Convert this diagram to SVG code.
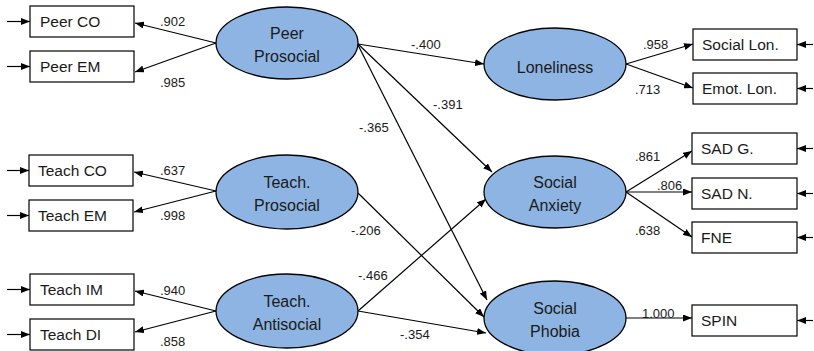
<svg xmlns="http://www.w3.org/2000/svg" width="814" height="351" viewBox="0 0 814 351">
<defs>
<marker id="ah" markerWidth="9" markerHeight="7" refX="9" refY="3.5" orient="auto" markerUnits="userSpaceOnUse">
<path d="M0,0 L9,3.5 L0,7 z" fill="#000"/>
</marker>
<style>
.box{fill:#fff;stroke:#000;stroke-width:1.2}
.lat{fill:#8db4e2;stroke:#000;stroke-width:1.3}
.t{font-family:"Liberation Sans",Arial,sans-serif;font-size:15.5px;fill:#1a1a1a}
.c{text-anchor:middle;font-size:16px}
.l{font-family:"Liberation Sans",Arial,sans-serif;font-size:13px;fill:#1a1a1a}
.e{stroke:#000;stroke-width:1.2;fill:none;marker-end:url(#ah)}
</style>
</defs>
<rect width="814" height="351" fill="#fff"/>
<g id="connectors">
<line class="e" x1="7" y1="21.5" x2="30" y2="21.5"/>
<line class="e" x1="7" y1="66.5" x2="30" y2="66.5"/>
<line class="e" x1="7" y1="170.5" x2="29" y2="170.5"/>
<line class="e" x1="7" y1="215.5" x2="29" y2="215.5"/>
<line class="e" x1="7" y1="289.5" x2="30" y2="289.5"/>
<line class="e" x1="7" y1="334.5" x2="30" y2="334.5"/>
<line class="e" x1="216" y1="43" x2="135" y2="23"/>
<line class="e" x1="216" y1="43" x2="135" y2="72"/>
<line class="e" x1="216" y1="191" x2="134" y2="172"/>
<line class="e" x1="216" y1="191" x2="134" y2="212"/>
<line class="e" x1="216" y1="311" x2="135" y2="291"/>
<line class="e" x1="216" y1="311" x2="135" y2="332"/>
<line class="e" x1="358" y1="44" x2="484" y2="64"/>
<line class="e" x1="358" y1="44" x2="492" y2="172"/>
<line class="e" x1="358" y1="45" x2="487" y2="300"/>
<line class="e" x1="358" y1="193" x2="484" y2="317"/>
<line class="e" x1="358" y1="311" x2="486" y2="199"/>
<line class="e" x1="358" y1="311" x2="486" y2="333"/>
<line class="e" x1="626" y1="64" x2="693" y2="44"/>
<line class="e" x1="626" y1="64" x2="693" y2="88"/>
<line class="e" x1="626" y1="192" x2="692" y2="151"/>
<line class="e" x1="626" y1="192" x2="692" y2="192"/>
<line class="e" x1="626" y1="192" x2="692" y2="237"/>
<line class="e" x1="626" y1="318" x2="692" y2="318"/>
<line class="e" x1="813" y1="44.5" x2="797" y2="44.5"/>
<line class="e" x1="813" y1="88.5" x2="797" y2="88.5"/>
<line class="e" x1="813" y1="148.5" x2="797" y2="148.5"/>
<line class="e" x1="813" y1="193.5" x2="797" y2="193.5"/>
<line class="e" x1="813" y1="237.5" x2="797" y2="237.5"/>
<line class="e" x1="813" y1="320.5" x2="797" y2="320.5"/>
<text class="l" x="160" y="26">.902</text>
<text class="l" x="160" y="87">.985</text>
<text class="l" x="160" y="175">.637</text>
<text class="l" x="160" y="220">.998</text>
<text class="l" x="160" y="295">.940</text>
<text class="l" x="160" y="346">.858</text>
<text class="l" x="411" y="49">-.400</text>
<text class="l" x="433" y="109">-.391</text>
<text class="l" x="359" y="132">-.365</text>
<text class="l" x="351" y="235">-.206</text>
<text class="l" x="358" y="280">-.466</text>
<text class="l" x="400" y="339">-.354</text>
<text class="l" x="643" y="49">.958</text>
<text class="l" x="635" y="94">.713</text>
<text class="l" x="635" y="161">.861</text>
<text class="l" x="657" y="190">.806</text>
<text class="l" x="635" y="235">.638</text>
<text class="l" x="642" y="318">1.000</text>
</g>
<g id="peer_co"><rect class="box" x="30" y="6" width="104" height="31"/><text class="t" x="40" y="27">Peer CO</text></g>
<g id="peer_em"><rect class="box" x="30" y="51" width="104" height="31"/><text class="t" x="40" y="72">Peer EM</text></g>
<g id="teach_co"><rect class="box" x="29" y="155" width="104" height="31"/><text class="t" x="38" y="176">Teach CO</text></g>
<g id="teach_em"><rect class="box" x="29" y="200" width="104" height="31"/><text class="t" x="38" y="221">Teach EM</text></g>
<g id="teach_im"><rect class="box" x="30" y="274" width="104" height="31"/><text class="t" x="40" y="295">Teach IM</text></g>
<g id="teach_di"><rect class="box" x="30" y="319" width="104" height="31"/><text class="t" x="40" y="340">Teach DI</text></g>
<g id="peer_prosocial"><ellipse class="lat" cx="287" cy="43" rx="71" ry="36"/><text class="t c" x="287" y="39">Peer</text><text class="t c" x="287" y="62">Prosocial</text></g>
<g id="teach_prosocial"><ellipse class="lat" cx="287" cy="192" rx="71" ry="37"/><text class="t c" x="287" y="188">Teach.</text><text class="t c" x="287" y="211">Prosocial</text></g>
<g id="teach_antisocial"><ellipse class="lat" cx="287" cy="311" rx="71" ry="37"/><text class="t c" x="287" y="307">Teach.</text><text class="t c" x="287" y="330">Antisocial</text></g>
<g id="loneliness"><ellipse class="lat" cx="555" cy="64" rx="71" ry="36"/><text class="t c" x="555" y="73">Loneliness</text></g>
<g id="social_anxiety"><ellipse class="lat" cx="555" cy="192" rx="71" ry="36"/><text class="t c" x="555" y="188">Social</text><text class="t c" x="555" y="211">Anxiety</text></g>
<g id="social_phobia"><ellipse class="lat" cx="555" cy="318" rx="71" ry="37"/><text class="t c" x="555" y="314">Social</text><text class="t c" x="555" y="337">Phobia</text></g>
<g id="social_lon"><rect class="box" x="693" y="29" width="104" height="31"/><text class="t" x="702" y="50">Social Lon.</text></g>
<g id="emot_lon"><rect class="box" x="693" y="73" width="104" height="31"/><text class="t" x="702" y="94">Emot. Lon.</text></g>
<g id="sad_g"><rect class="box" x="692" y="133" width="105" height="31"/><text class="t" x="701" y="154">SAD G.</text></g>
<g id="sad_n"><rect class="box" x="692" y="178" width="105" height="31"/><text class="t" x="701" y="199">SAD N.</text></g>
<g id="fne"><rect class="box" x="692" y="222" width="105" height="31"/><text class="t" x="701" y="243">FNE</text></g>
<g id="spin"><rect class="box" x="692" y="305" width="105" height="31"/><text class="t" x="701" y="326">SPIN</text></g>
</svg>
